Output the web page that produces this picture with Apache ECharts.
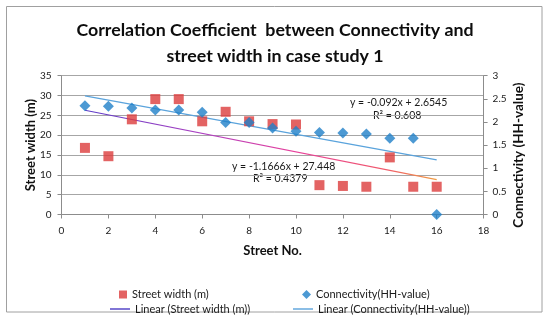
<!DOCTYPE html>
<html>
<head>
<meta charset="utf-8">
<script src="https://cdn.jsdelivr.net/npm/echarts@6/dist/echarts.min.js"></script>
<style>
html,body{margin:0;padding:0;background:#fff;}
#c{width:550px;height:322px;}
</style>
</head>
<body>
<div id="c"></div>
<script>
// ---- data ----
const streetNo = [1, 2, 3, 4, 5, 6, 7, 8, 9, 10, 11, 12, 13, 14, 15, 16];
const streetWidth = [16.8, 14.7, 24.0, 29.1, 29.1, 23.5, 25.9, 23.5, 22.8, 22.7, 7.4, 7.2, 7.0, 14.4, 7.0, 7.0];
const connectivity = [2.35, 2.34, 2.30, 2.26, 2.26, 2.21, 1.99, 1.99, 1.87, 1.80, 1.77, 1.76, 1.74, 1.65, 1.65, 0];
// trend line coefficients as printed on the chart [slope, intercept]
const widthTrend = [-1.1666, 27.448];
const connTrend = [-0.092, 2.6545];
const widthTrendText = ['y = -1.1666x + 27.448', 'R\u00b2 = 0.4379'];
const connTrendText = ['y = -0.092x + 2.6545', 'R\u00b2 = 0.608'];
const titleLines = ['Correlation Coefficient  between Connectivity and', 'street width in case study 1'];
const xTicks = {min: 0, max: 18, interval: 2};
const yLeftTicks = {min: 0, max: 35, interval: 5};
const yRightTicks = {min: 0, max: 3, interval: 0.5};

const FONT = 'Lato, "Liberation Sans", sans-serif';
const trendPts = (c) => {
  const x0 = streetNo[0], x1 = streetNo[streetNo.length - 1];
  return [[x0, c[0] * x0 + c[1]], [x1, c[0] * x1 + c[1]]];
};

const chart = echarts.init(document.getElementById('c'), null, {renderer: 'canvas'});
const axisLineStyle = {color: '#8c8c8c', width: 1};
const labelStyle = {color: '#1a1a1a', fontSize: 10, fontFamily: FONT};
const nameStyle = {color: '#111', fontSize: 13, fontWeight: 'bold', fontFamily: FONT};
const legendText = {fontSize: 11, color: '#1a1a1a', fontFamily: FONT};

chart.setOption({
  backgroundColor: '#fff',
  animation: false,
  title: {
    text: titleLines.join('\n'),
    left: 'center',
    top: 12,
    textStyle: {fontSize: 17.8, fontWeight: 'bold', fontFamily: FONT, color: '#0d0d0d', lineHeight: 26}
  },
  grid: {left: 61.5, right: 66.4, top: 75.7, bottom: 107.5},
  xAxis: {
    type: 'value', min: xTicks.min, max: xTicks.max, interval: xTicks.interval,
    name: 'Street No.', nameLocation: 'middle', nameGap: 30, nameTextStyle: nameStyle,
    axisLine: {show: true, lineStyle: axisLineStyle, onZero: false},
    axisTick: {show: true, length: 4, lineStyle: axisLineStyle},
    axisLabel: {...labelStyle, margin: 11},
    splitLine: {show: false}
  },
  yAxis: [{
    type: 'value', min: yLeftTicks.min, max: yLeftTicks.max, interval: yLeftTicks.interval,
    name: 'Street width (m)', nameLocation: 'middle', nameGap: 24, nameMoveOverlap: false,
    nameTextStyle: nameStyle,
    axisLine: {show: true, lineStyle: axisLineStyle},
    axisTick: {show: true, length: 4, lineStyle: axisLineStyle},
    axisLabel: {...labelStyle, margin: 10},
    splitLine: {show: true, lineStyle: {color: '#a6a6a6', width: 1}}
  }, {
    type: 'value', min: yRightTicks.min, max: yRightTicks.max, interval: yRightTicks.interval,
    position: 'right',
    name: 'Connectivity (HH-value)', nameLocation: 'middle', nameGap: 28, nameMoveOverlap: false,
    nameTextStyle: {...nameStyle, fontSize: 13.5, padding: [0, 20, 0, 0]},
    axisLine: {show: true, lineStyle: axisLineStyle},
    axisTick: {show: true, length: 4, lineStyle: axisLineStyle},
    axisLabel: {...labelStyle, margin: 9},
    splitLine: {show: false}
  }],
  legend: [
    {data: [{name: 'Street width (m)', icon: 'rect'}], left: 114, top: 284, itemWidth: 8, itemHeight: 8,
      textStyle: legendText},
    {data: [{name: 'Connectivity(HH-value)', icon: 'diamond'}], left: 297, top: 284, itemWidth: 9, itemHeight: 9,
      textStyle: legendText},
    {data: [{name: 'Linear (Street width (m))', icon: 'rect', itemStyle: {color: '#4b3cc4'}}],
      left: 105, top: 298.5, itemWidth: 20, itemHeight: 1.4,
      textStyle: legendText},
    {data: [{name: 'Linear (Connectivity(HH-value))', icon: 'rect', itemStyle: {color: '#5aa3dc'}}],
      left: 288, top: 298.5, itemWidth: 20, itemHeight: 1.4,
      textStyle: legendText}
  ],
  series: [
    {
      name: 'Linear (Street width (m))', type: 'line', yAxisIndex: 0, z: 2,
      data: trendPts(widthTrend), symbol: 'none', showSymbol: false,
      lineStyle: {width: 1.2, color: {
        type: 'linear', x: 0, y: 0, x2: 1, y2: 0,
        colorStops: [
          {offset: 0, color: '#5a3cc8'},
          {offset: 0.35, color: '#b040c0'},
          {offset: 0.6, color: '#e8409a'},
          {offset: 0.85, color: '#f05a6a'},
          {offset: 1, color: '#f0a040'}
        ]}}
    },
    {
      name: 'Linear (Connectivity(HH-value))', type: 'line', yAxisIndex: 1, z: 2,
      data: trendPts(connTrend), symbol: 'none', showSymbol: false,
      lineStyle: {width: 1.2, color: '#5aa3dc'}
    },
    {
      name: 'Street width (m)', type: 'scatter', yAxisIndex: 0, z: 3,
      symbol: 'rect', symbolSize: 10,
      itemStyle: {color: '#dc3c3c'},
      data: streetNo.map((x, i) => [x, streetWidth[i]])
    },
    {
      name: 'Connectivity(HH-value)', type: 'scatter', yAxisIndex: 1, z: 4,
      symbol: 'diamond', symbolSize: 11,
      itemStyle: {color: '#1f7fc8'},
      data: streetNo.map((x, i) => [x, connectivity[i]])
    }
  ],
  graphic: [
    {type: 'rect', shape: {x: 6.5, y: 6.5, width: 535.5, height: 305.5}, style: {fill: 'none', stroke: '#a0a0a0', lineWidth: 1}, z: -10},
    {type: 'text', left: 350, top: 97, style: {text: connTrendText[0], fill: '#1a1a1a', font: '10.5px ' + FONT}},
    {type: 'text', left: 373, top: 110, style: {text: connTrendText[1], fill: '#1a1a1a', font: '10.5px ' + FONT}},
    {type: 'text', left: 232, top: 161, style: {text: widthTrendText[0], fill: '#1a1a1a', font: '10.5px ' + FONT}},
    {type: 'text', left: 253, top: 173, style: {text: widthTrendText[1], fill: '#1a1a1a', font: '10.5px ' + FONT}}
  ]
});
</script>
</body>
</html>
